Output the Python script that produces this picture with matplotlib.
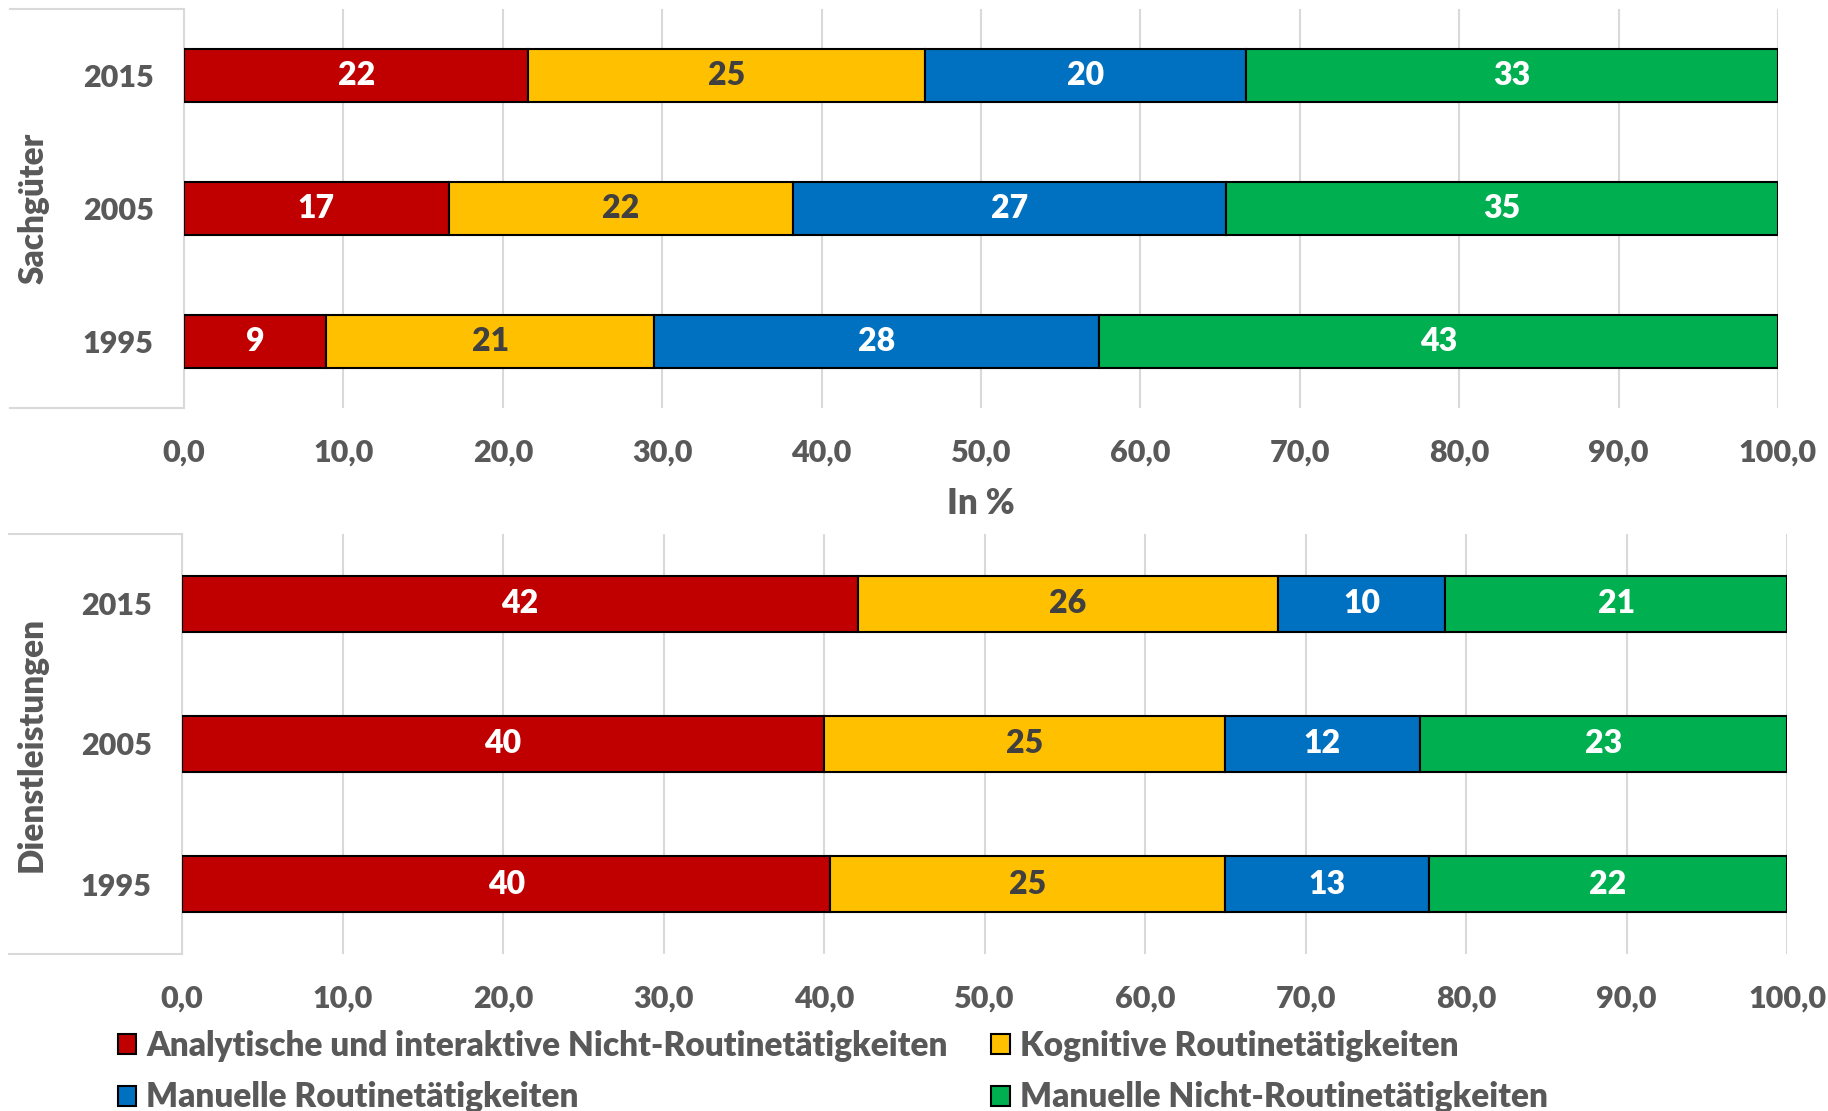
import matplotlib
matplotlib.use("Agg")
import matplotlib.pyplot as plt
from matplotlib.patches import Patch
import numpy as np

plt.rcParams['font.family'] = ['Lato', 'DejaVu Sans']
W = 'heavy'
plt.rcParams['font.weight'] = W

years = ['1995', '2005', '2015']
series = ['Analytische und interaktive Nicht-Routinetätigkeiten',
          'Kognitive Routinetätigkeiten',
          'Manuelle Routinetätigkeiten',
          'Manuelle Nicht-Routinetätigkeiten']
colors = ['#C00000', '#FFC000', '#0070C0', '#00B050']
label_colors = ['white', '#404040', 'white', 'white']

# Sachgüter (values for 1995, 2005, 2015)
sach_analyt = [8.9, 16.6, 21.6]
sach_kogn = [20.6, 21.6, 24.9]
sach_man_rout = [27.9, 27.2, 20.1]
sach_man_nrout = [42.6, 34.6, 33.4]

# Dienstleistungen (values for 1995, 2005, 2015)
dienst_analyt = [40.4, 40.0, 42.1]
dienst_kogn = [24.6, 25.0, 26.2]
dienst_man_rout = [12.7, 12.1, 10.4]
dienst_man_nrout = [22.3, 22.9, 21.3]

xticks = np.arange(0, 101, 10)
xticklabels = ['%d,0' % v for v in xticks]

TXT = '#595959'
GRID = '#D9D9D9'

fig = plt.figure(figsize=(18.28, 11.11), dpi=100)
ax1 = fig.add_axes([0.1007, 0.6328, 0.9726 - 0.1007, 0.9916 - 0.6328])
ax2 = fig.add_axes([0.0996, 0.1413, 0.9776 - 0.0996, 0.5194 - 0.1413])


def draw(ax, data, group, box_left, xpad):
    y = np.arange(len(years))
    left = np.zeros(len(years))
    for vals, col, lc in zip(data, colors, label_colors):
        vals = np.array(vals)
        bars = ax.barh(y, vals, left=left, height=0.40, color=col,
                       edgecolor='black', linewidth=1.5, zorder=3)
        ax.bar_label(bars, labels=['%d' % int(round(v)) for v in vals],
                     label_type='center', color=lc, fontsize=23,
                     fontweight=W)
        left += vals
    ax.set_xlim(0, 100)
    ax.set_ylim(-0.5, 2.5)
    ax.set_xticks(xticks)
    ax.set_xticklabels(xticklabels)
    ax.set_yticks(y)
    ax.set_yticklabels(years)
    ax.tick_params(axis='both', length=0, labelsize=22, labelcolor=TXT)
    ax.tick_params(axis='y', pad=22)
    ax.tick_params(axis='x', pad=xpad)
    for t in ax.get_xticklabels() + ax.get_yticklabels():
        t.set_fontweight(W)
    ax.grid(axis='x', color=GRID, linewidth=1.5, zorder=0)
    for s in ['top', 'right', 'bottom']:
        ax.spines[s].set_visible(False)
    ax.spines['left'].set_color(GRID)
    ax.spines['left'].set_linewidth(1.5)
    for yy in (0, 1):
        ax.plot([box_left, 0], [yy, yy], transform=ax.transAxes,
                color=GRID, linewidth=1.5, clip_on=False)
    ax.text(box_left + 0.0145, 0.5, group, transform=ax.transAxes,
            rotation=90, ha='center', va='center', fontsize=24,
            fontweight=W, color=TXT)


draw(ax1, [sach_analyt, sach_kogn, sach_man_rout, sach_man_nrout],
     'Sachgüter', -0.109, 22)
draw(ax2, [dienst_analyt, dienst_kogn, dienst_man_rout, dienst_man_nrout],
     'Dienstleistungen', -0.108, 22)

ax1.set_xlabel('In %', fontsize=25, fontweight=W, color=TXT, labelpad=15)

handles = [Patch(facecolor=c, edgecolor='black', linewidth=1.5) for c in colors]
order = [0, 2, 1, 3]
fig.legend([handles[i] for i in order], [series[i] for i in order],
           loc='upper left', bbox_to_anchor=(0.0555, 1 - 1013 / 1111),
           ncol=2, frameon=False, handlelength=0.55,
           handleheight=0.55, handletextpad=0.3, columnspacing=1.3,
           labelspacing=0.59, borderpad=0, labelcolor=TXT,
           prop={'weight': W, 'size': 24})

fig.savefig('out.png', dpi=100)
